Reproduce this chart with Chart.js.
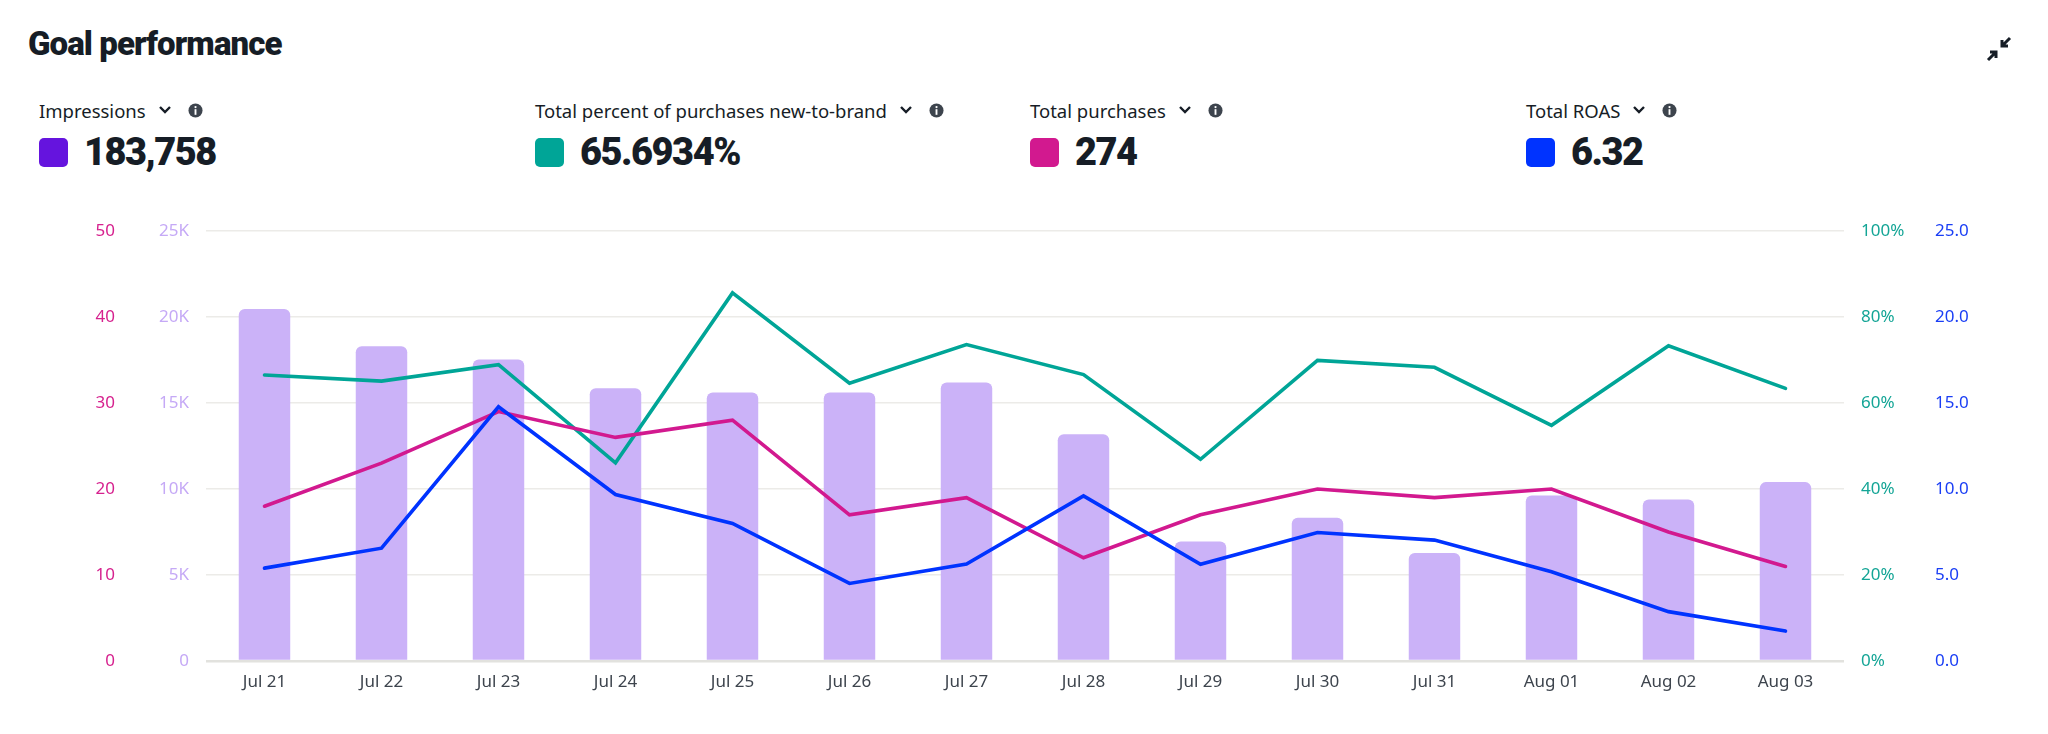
<!DOCTYPE html>
<html>
<head>
<meta charset="utf-8">
<script src="https://cdn.jsdelivr.net/npm/chart.js@4.4.1/dist/chart.umd.min.js"></script>
<style>
  html, body { margin: 0; padding: 0; background: #fff; }
  body { width: 2048px; height: 734px; position: relative; overflow: hidden; font-family: "Noto Sans", Roboto, sans-serif; color: #161d26; }
  #title { position: absolute; left: 28px; top: 24px; font-family: Roboto, sans-serif; font-weight: 900; font-size: 33px; letter-spacing: -0.9px; color: #161d26; }
  #collapse { position: absolute; left: 1986px; top: 36px; }
  .metric { position: absolute; top: 96px; }
  .mlabel { font-size: 18.5px; color: #161d26; height: 28px; display: flex; align-items: center; white-space: nowrap; }
  .mlabel svg { margin-left: 12px; }
  .mlabel .info { margin-left: 16px; }
  .mvalue { margin-top: 11px; display: flex; align-items: center; height: 34px; }
  .swatch { width: 29px; height: 29px; border-radius: 5px; margin-right: 16px; }
  .num { font-family: Roboto, sans-serif; font-weight: 900; font-size: 38px; letter-spacing: -1.5px; color: #161d26; }
  #wrap { position: absolute; left: 0; top: 200px; width: 2048px; height: 534px; }
</style>
</head>
<body>
<div id="title">Goal performance</div>
<svg id="collapse" width="26" height="26" viewBox="0 0 26 26">
  <path d="M24 2 L16 10 M16 4 L16 10 L22 10" stroke="#161d26" stroke-width="3" fill="none"/>
  <path d="M2 24 L10 16 M4 16 L10 16 L10 22" stroke="#161d26" stroke-width="3" fill="none"/>
</svg>
<div id="metrics"></div>
<div id="wrap"><canvas id="c"></canvas></div>
<script>
// ---- data ----
const categories = ["Jul 21","Jul 22","Jul 23","Jul 24","Jul 25","Jul 26","Jul 27","Jul 28","Jul 29","Jul 30","Jul 31","Aug 01","Aug 02","Aug 03"];
const impressions = [20470,18300,17530,15860,15610,15610,16190,13190,6950,8330,6280,9620,9390,10400];
const ntbPercent = [66.5,65.1,68.9,46.1,85.6,64.6,73.6,66.6,46.9,69.9,68.3,54.8,73.3,63.4];
const purchases = [18,23,29,26,28,17,19,12,17,20,19,20,15,11];
const roas = [5.4,6.56,14.78,9.68,8.0,4.51,5.64,9.6,5.62,7.47,7.03,5.19,2.87,1.74];

const metricNames = ["Impressions","Total percent of purchases new-to-brand","Total purchases","Total ROAS"];
const metricTotals = ["183,758","65.6934%","274","6.32"];
const metricColors = ["#6514DE","#00A597","#D2198F","#0033FF"];
const metricLefts = [39,535,1030,1526];

const pinkTicks = "#D6218E", purpleTicks = "#C5A9F6", tealTicks = "#14A596", blueTicks = "#1A3EF5";

// ---- header metrics ----
const chev = '<svg width="14" height="10" viewBox="0 0 14 10"><path d="M2 2 L7 7 L12 2" stroke="#161d26" stroke-width="2.4" fill="none"/></svg>';
const info = '<svg class="info" width="15" height="15" viewBox="0 0 16 16"><circle cx="8" cy="8" r="7.5" fill="#3d444d"/><rect x="7" y="6.6" width="2" height="6" fill="#fff"/><circle cx="8" cy="4.3" r="1.2" fill="#fff"/></svg>';
const m = document.getElementById('metrics');
metricNames.forEach((n, i) => {
  const d = document.createElement('div');
  d.className = 'metric';
  d.style.left = metricLefts[i] + 'px';
  d.innerHTML = '<div class="mlabel">' + n + chev + info + '</div>' +
    '<div class="mvalue"><div class="swatch" style="background:' + metricColors[i] + '"></div><span class="num">' + metricTotals[i] + '</span></div>';
  m.appendChild(d);
});

// ---- chart ----
Chart.defaults.font.family = "'Noto Sans', sans-serif";
Chart.defaults.font.size = 17;
function fixW(w) { return function (s) { s.width = w; }; }

new Chart(document.getElementById('c'), {
  data: {
    labels: categories,
    datasets: [
      { type: 'bar', data: impressions, yAxisID: 'yImp', backgroundColor: '#CBB2F8', borderRadius: { topLeft: 6, topRight: 6 }, borderSkipped: 'start', barPercentage: 0.44, categoryPercentage: 1, order: 4 },
      { type: 'line', data: ntbPercent, yAxisID: 'yNtb', borderColor: '#00A597', borderWidth: 3.6, pointRadius: 0, tension: 0, order: 3, borderCapStyle: 'round' },
      { type: 'line', data: purchases, yAxisID: 'yPur', borderColor: '#D2198F', borderWidth: 3.6, pointRadius: 0, tension: 0, order: 2, borderCapStyle: 'round' },
      { type: 'line', data: roas, yAxisID: 'yRoas', borderColor: '#0033FF', borderWidth: 3.6, pointRadius: 0, tension: 0, order: 1, borderCapStyle: 'round' }
    ]
  },
  options: {
    responsive: true,
    maintainAspectRatio: false,
    animation: false,
    layout: { padding: { left: 40, right: 50, top: 31, bottom: 22 } },
    plugins: { legend: { display: false }, tooltip: { enabled: false } },
    scales: {
      x: {
        grid: { display: false, drawTicks: false },
        border: { display: false },
        ticks: { color: '#3d444d', padding: 11, font: { size: 17 } },
        afterFit: function (s) { s.height = 51; }
      },
      yImp: {
        position: 'left', weight: 0, min: 0, max: 25000,
        ticks: { stepSize: 5000, color: purpleTicks, padding: 17, callback: v => v === 0 ? '0' : (v / 1000) + 'K' },
        grid: { drawTicks: false, color: c => c.tick.value === 0 ? '#e2e2de' : '#ecebe8', lineWidth: c => c.tick.value === 0 ? 2.5 : 1.5 },
        border: { display: false },
        afterFit: fixW(74)
      },
      yPur: {
        position: 'left', weight: 1, min: 0, max: 50,
        ticks: { stepSize: 10, color: pinkTicks, padding: 17 },
        grid: { display: false, drawTicks: false },
        border: { display: false },
        afterFit: fixW(92)
      },
      yNtb: {
        position: 'right', weight: 0, min: 0, max: 100,
        ticks: { stepSize: 20, color: tealTicks, padding: 17, callback: v => v + '%' },
        grid: { display: false, drawTicks: false },
        border: { display: false },
        afterFit: fixW(74)
      },
      yRoas: {
        position: 'right', weight: 1, min: 0, max: 25,
        ticks: { stepSize: 5, color: blueTicks, padding: 17, callback: v => v.toFixed(1) },
        grid: { display: false, drawTicks: false },
        border: { display: false },
        afterFit: fixW(80)
      }
    }
  }
});
</script>
</body>
</html>
